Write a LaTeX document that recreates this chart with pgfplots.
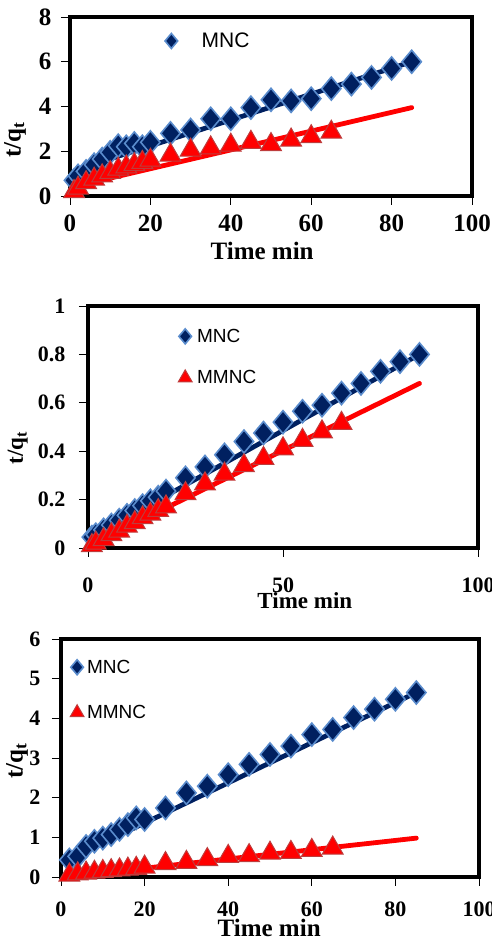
\documentclass[border=0pt]{standalone}
\usepackage{fontspec}
\setmainfont{Liberation Serif}
\newfontfamily\legfont{Liberation Sans}
\usepackage{pgfplots}
\pgfplotsset{compat=1.18}
\definecolor{navy}{RGB}{0,32,96}
\definecolor{glow}{RGB}{90,140,205}
\definecolor{tri}{RGB}{255,0,0}
\definecolor{triedge}{RGB}{190,60,60}
\pgfplotsset{
  panel/.style={
    scale only axis, anchor=south west,
    xmin=0, xmax=100,
    axis line style={line width=4.5pt, black},
    tick style={black, line width=0.8pt},
    major tick length=9pt, tick align=outside,
    xtick pos=bottom, ytick pos=left,
    /pgf/number format/assume math mode=true,
    legend cell align=left,
  },
  smallleg/.style={legend image code/.code={\draw[##1,mark size=#1] plot coordinates {(0pt,0pt)};}},
  mncmark/.style={only marks, mark=diamond*, mark size=11.5pt,
    mark options={xscale=1.12, fill=navy, draw=glow, line width=1.6pt}, smallleg=7.5pt},
  mmncmark/.style={only marks, mark=triangle*, mark size=12pt,
    mark options={fill=tri, draw=triedge, line width=1.0pt}, smallleg=8pt},
  mncline/.style={no marks, navy, line width=4.8pt, line cap=round},
  mmncline/.style={no marks, tri, line width=4.8pt, line cap=round},
}
\begin{document}
\begin{tikzpicture}
\path[use as bounding box] (0,0) rectangle (492pt,942pt);
% ---------------- Panel 1 ----------------
\begin{axis}[panel, at={(70pt,746pt)}, width=402pt, height=179pt,
  ymin=0, ymax=8, ytick={0,2,4,6,8}, xtick={0,20,40,60,80,100},
  ticklabel style={font=\fontsize{25}{25}\selectfont\bfseries},
  xticklabel style={anchor=center, yshift=-18pt},
  yticklabel style={anchor=east, xshift=-6pt},
  xlabel={\bfseries Time min}, ylabel={\bfseries t/q\textsubscript{t}},
  label style={font=\fontsize{25}{25}\selectfont},
  xlabel style={at={(axis description cs:0.478,-0.307)}, anchor=center},
  ylabel style={at={(axis description cs:-0.137,0.313)}, anchor=center},
  legend style={at={(axis description cs:0.236,0.866)}, anchor=west,
    draw=none, fill=none, inner sep=0pt, column sep=24pt,
    font=\legfont\fontsize{21}{21}\selectfont, nodes={inner sep=0pt}},
]
\addplot[mncmark] coordinates {
(1,0.7) (2,0.9) (4,1.1) (6,1.4) (8,1.65) (10,1.95) (12,2.25) (14,2.2) (16,2.35) (18,2.2) (20,2.4)
(25,2.8) (30,2.95) (35,3.45) (40,3.45) (45,3.95) (50,4.3) (55,4.25) (60,4.35) (65,4.8) (70,5.0) (75,5.3) (80,5.7) (85,6.0)};
\addlegendentry{MNC}
\addplot[mmncmark, forget plot] coordinates {
(1,0.2) (2,0.35) (4,0.6) (6,0.75) (8,0.9) (10,1.05) (12,1.2) (14,1.3) (16,1.4) (18,1.5) (20,1.6)
(25,1.83) (30,2.05) (35,2.15) (40,2.27) (45,2.4) (50,2.3) (55,2.5) (60,2.65) (65,2.85)};
\addplot[mncline, forget plot] coordinates {(2,1.2) (85,6.0)};
\addplot[mmncline, forget plot] coordinates {(1,0.42) (85,3.95)};
\end{axis}
% ---------------- Panel 2 ----------------
\begin{axis}[panel, at={(88pt,394pt)}, width=390pt, height=242pt,
  ymin=0, ymax=1, ytick={0,0.2,0.4,0.6,0.8,1}, xtick={0,50,100},
  ticklabel style={font=\fontsize{22}{22}\selectfont\bfseries},
  xticklabel style={anchor=center, yshift=-28pt},
  yticklabel style={anchor=east, xshift=-10pt},
  xlabel={\bfseries Time min}, ylabel={\bfseries t/q\textsubscript{t}},
  label style={font=\fontsize{23}{23}\selectfont},
  xlabel style={at={(axis description cs:0.556,-0.219)}, anchor=center},
  ylabel style={at={(axis description cs:-0.18,0.413)}, anchor=center},
  legend style={at={(axis description cs:0.231,0.789)}, anchor=west,
    draw=none, fill=none, inner sep=0pt, column sep=5pt, row sep=26pt,
    font=\legfont\fontsize{19}{19}\selectfont, nodes={inner sep=0pt}},
]
\addplot[mncmark] coordinates {
(1,0.045) (2,0.055) (4,0.075) (6,0.095) (8,0.115) (10,0.135) (12,0.155) (14,0.175) (16,0.195) (18,0.21) (20,0.235)
(25,0.29) (30,0.335) (35,0.385) (40,0.44) (45,0.475) (50,0.52) (55,0.565) (60,0.59) (65,0.64) (70,0.68) (75,0.73) (80,0.77) (85,0.80)};
\addlegendentry{MNC}
\addplot[mmncmark] coordinates {
(1,0.01) (2,0.02) (4,0.035) (6,0.055) (8,0.07) (10,0.09) (12,0.105) (14,0.125) (16,0.14) (18,0.155) (20,0.17)
(25,0.225) (30,0.265) (35,0.305) (40,0.34) (45,0.37) (50,0.41) (55,0.445) (60,0.48) (65,0.515)};
\addlegendentry{MMNC}
\addplot[mncline, forget plot] coordinates {(1,0.045) (85,0.80)};
\addplot[mmncline, forget plot] coordinates {(1,0.015) (85,0.68)};
\end{axis}
% ---------------- Panel 3 ----------------
\begin{axis}[panel, at={(61pt,65pt)}, width=418pt, height=238pt,
  ymin=0, ymax=6, ytick={0,1,2,3,4,5,6}, xtick={0,20,40,60,80,100},
  ticklabel style={font=\fontsize{22}{22}\selectfont\bfseries},
  xticklabel style={anchor=center, yshift=-23pt},
  yticklabel style={anchor=east, xshift=-8pt},
  xlabel={\bfseries Time min}, ylabel={\bfseries t/q\textsubscript{t}},
  label style={font=\fontsize{25}{25}\selectfont},
  xlabel style={at={(axis description cs:0.498,-0.214)}, anchor=center},
  ylabel style={at={(axis description cs:-0.105,0.487)}, anchor=center},
  legend style={at={(axis description cs:0.0215,0.786)}, anchor=west,
    draw=none, fill=none, inner sep=0pt, column sep=3pt, row sep=30pt,
    font=\legfont\fontsize{19}{19}\selectfont, nodes={inner sep=0pt}},
]
\addplot[mncmark] coordinates {
(2,0.43) (4,0.52) (6,0.77) (8,0.9) (10,0.98) (12,1.07) (14,1.2) (16,1.32) (18,1.49) (20,1.45)
(25,1.74) (30,2.12) (35,2.29) (40,2.58) (45,2.84) (50,3.09) (55,3.3) (60,3.59) (65,3.72) (70,4.02) (75,4.23) (80,4.48) (85,4.65)};
\addlegendentry{MNC}
\addplot[mmncmark] coordinates {
(2,0.05) (4,0.08) (6,0.1) (8,0.12) (10,0.14) (12,0.16) (14,0.18) (16,0.2) (18,0.22) (20,0.25)
(25,0.34) (30,0.37) (35,0.44) (40,0.52) (45,0.54) (50,0.6) (55,0.62) (60,0.67) (65,0.73)};
\addlegendentry{MMNC}
\addplot[mncline, forget plot] coordinates {(1,0.4) (85,4.65)};
\addplot[mmncline, forget plot] coordinates {(1,0.0) (85,0.98)};
\end{axis}
\end{tikzpicture}
\end{document}
